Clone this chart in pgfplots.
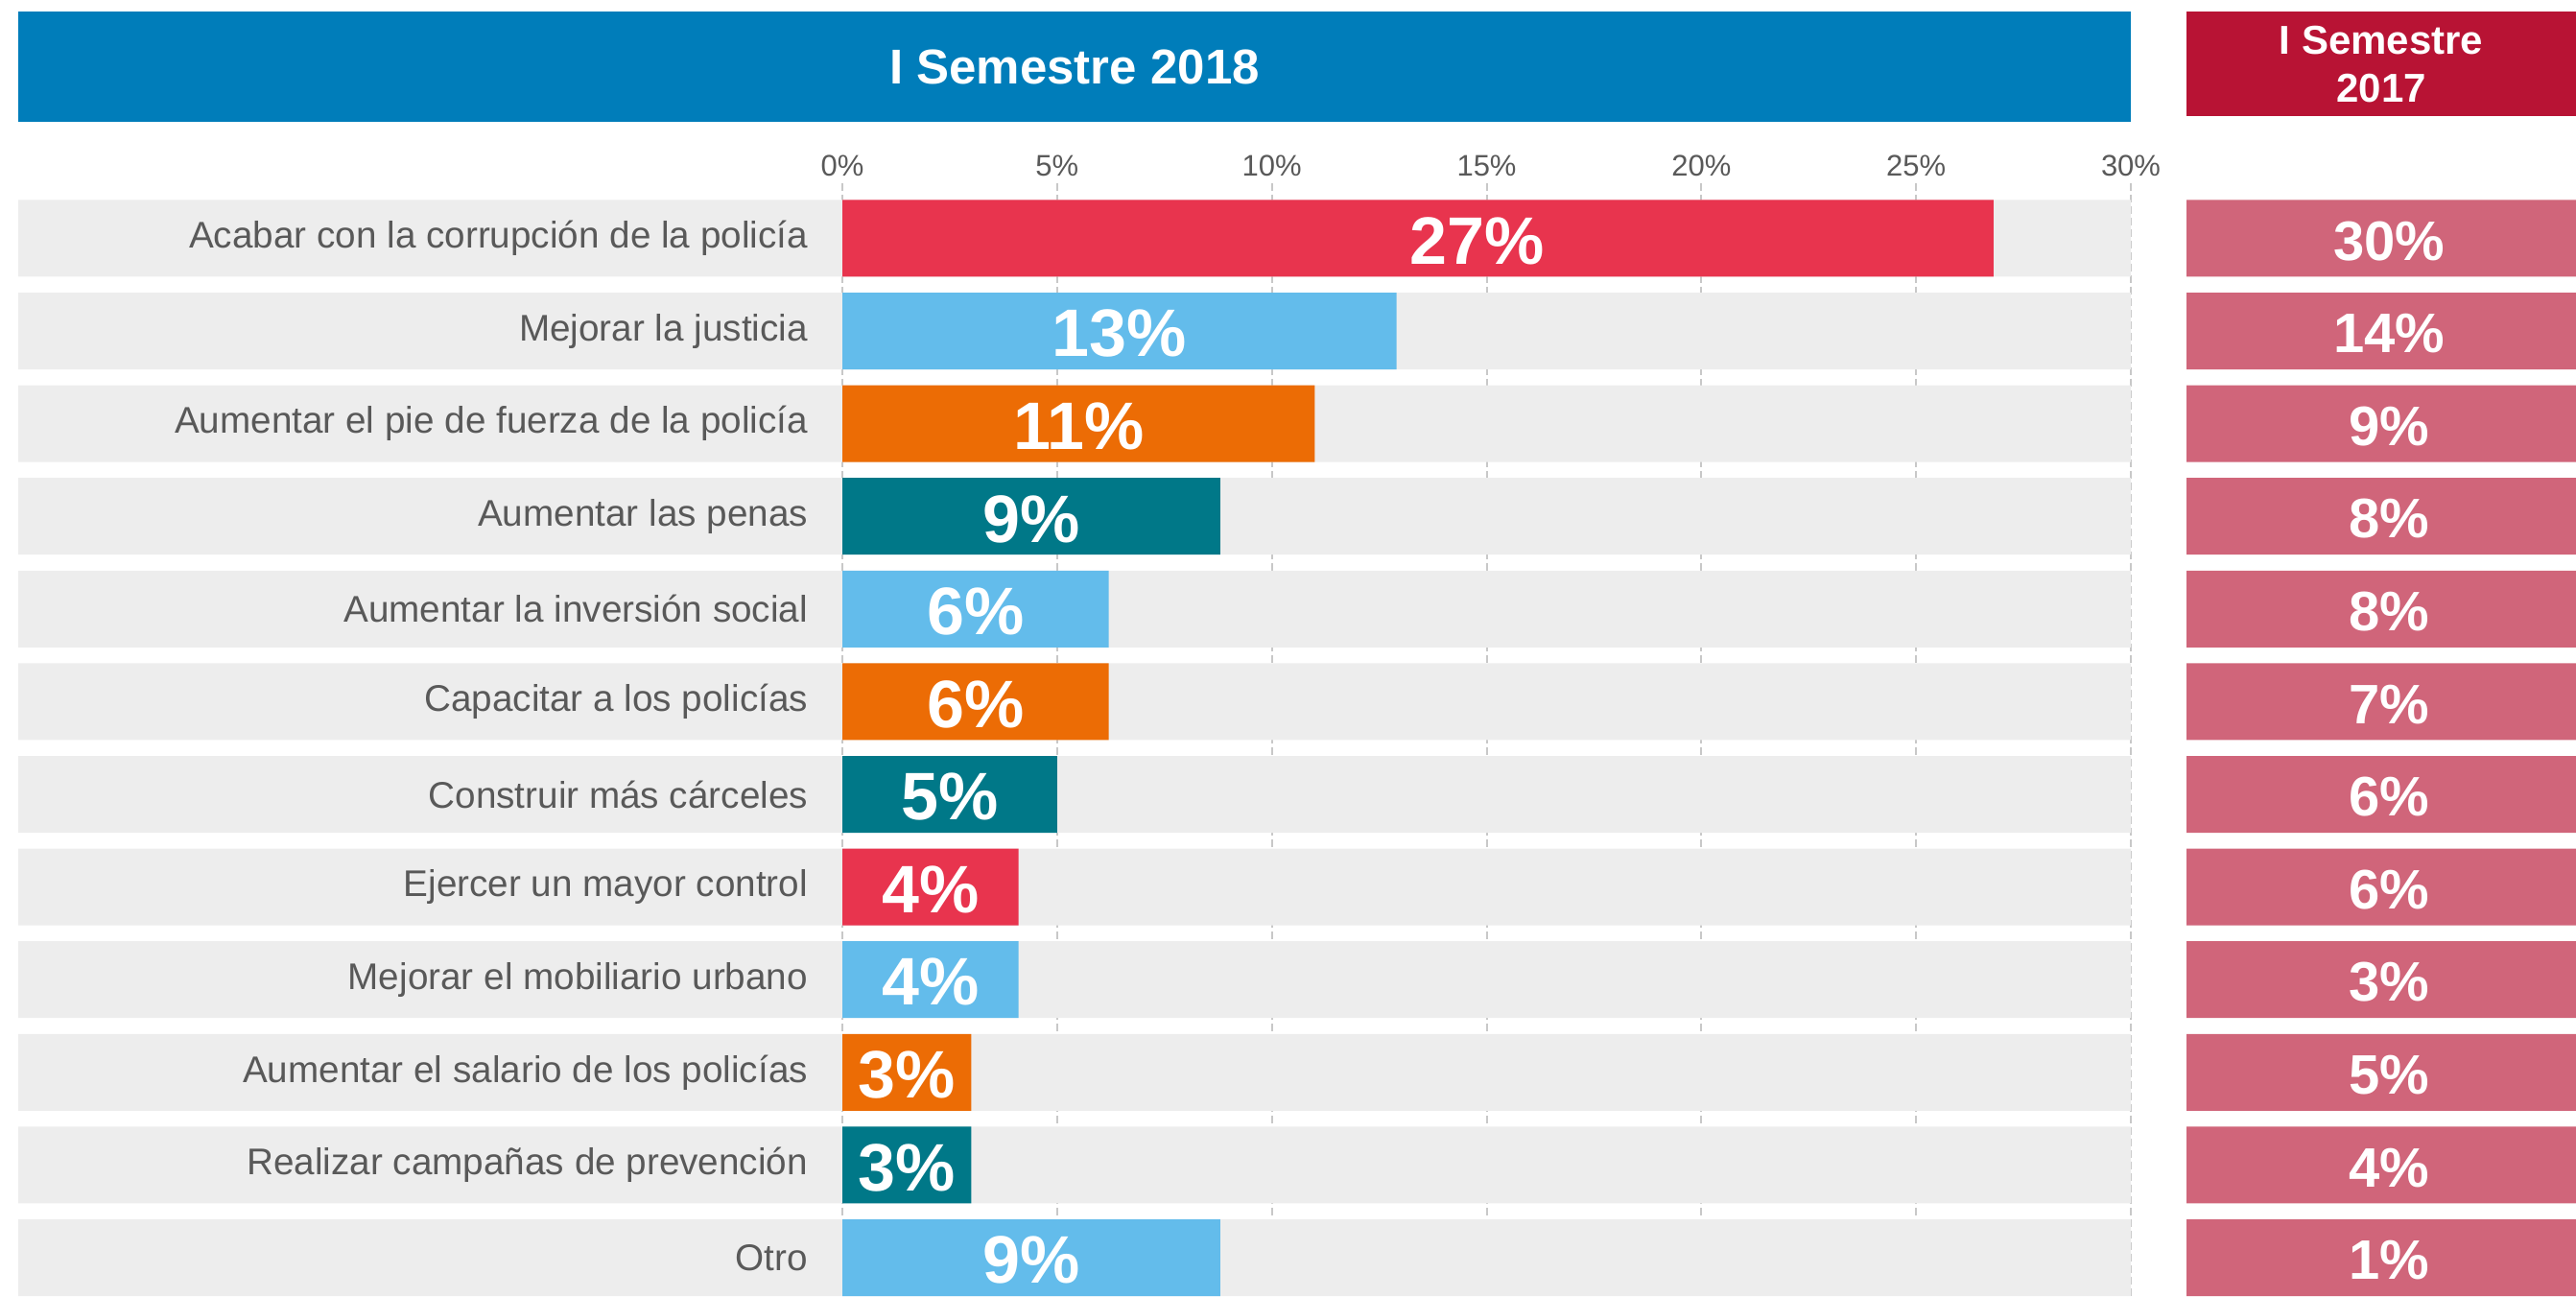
\documentclass[border=0pt]{standalone}
\usepackage{fontspec}
\setmainfont{Liberation Sans}
\usepackage{pgfplots}
\pgfplotsset{compat=1.18}
\definecolor{hdrblue}{HTML}{007DBA}
\definecolor{hdrred}{HTML}{B81334}
\definecolor{cred}{HTML}{E8344E}
\definecolor{cblue}{HTML}{63BCEB}
\definecolor{corange}{HTML}{EC6C05}
\definecolor{cteal}{HTML}{007888}
\definecolor{cpink}{HTML}{D0657A}
\definecolor{band}{HTML}{EDEDED}
\definecolor{txt}{HTML}{595959}
\definecolor{gridc}{HTML}{C8C8C8}

\begin{document}
\begin{tikzpicture}
\useasboundingbox (-5.7pt,-0.3pt) rectangle (799.8pt,405.3pt);
% I Semestre 2018
\begin{axis}[
at={(0,0)}, anchor=south west,
scale only axis, width=660.6pt, height=348pt,
xmin=-19.19, xmax=30, ymin=-0.595, ymax=11.414, y dir=reverse,
axis x line*=top, axis y line*=right,
x axis line style={draw=none},
y axis line style={gridc, line width=0.6pt, dash pattern=on 2.4pt off 1.2pt},
xtick={0,5,...,30}, ytick=\empty,
xtick style={draw=none},
xticklabel={\pgfmathprintnumber{\tick}\%},
xticklabel style={font=\fontsize{9.3}{11}\selectfont, text=txt, yshift=-1.5pt},
/pgf/number format/assume math mode=true,
xmajorgrids, grid style={gridc, line width=0.6pt, dash pattern=on 2.4pt off 1.2pt},
bar width=24pt, /pgf/bar shift=0pt,
clip=false,
]
% background bands
\addplot[xbar, fill=band, draw=none] coordinates {
(30,0) (30,1) (30,2) (30,3) (30,4) (30,5) (30,6) (30,7) (30,8) (30,9) (30,10) (30,11)};
\addplot[xbar, fill=band, draw=none] coordinates {
(-19.19,0) (-19.19,1) (-19.19,2) (-19.19,3) (-19.19,4) (-19.19,5)
(-19.19,6) (-19.19,7) (-19.19,8) (-19.19,9) (-19.19,10) (-19.19,11)};
% bars
\addplot[xbar, fill=cred, draw=none] coordinates {(26.8,0) (4.1,7)};
\addplot[xbar, fill=cblue, draw=none] coordinates {(12.9,1) (6.2,4) (4.1,8) (8.8,11)};
\addplot[xbar, fill=corange, draw=none] coordinates {(11.0,2) (6.2,5) (3.0,9)};
\addplot[xbar, fill=cteal, draw=none] coordinates {(8.8,3) (5.0,6) (3.0,10)};
% category names
\addplot[only marks, mark=none, point meta=explicit symbolic, nodes near coords,
  nodes near coords style={anchor=east, inner sep=0pt, text=txt, font=\fontsize{11.6}{14}\selectfont}]
coordinates {
(-0.79,0) [Acabar con la corrupción de la policía]
(-0.79,1) [Mejorar la justicia]
(-0.79,2) [Aumentar el pie de fuerza de la policía]
(-0.79,3) [Aumentar las penas]
(-0.79,4) [Aumentar la inversión social]
(-0.79,5) [Capacitar a los policías]
(-0.79,6) [Construir más cárceles]
(-0.79,7) [Ejercer un mayor control]
(-0.79,8) [Mejorar el mobiliario urbano]
(-0.79,9) [Aumentar el salario de los policías]
(-0.79,10) [Realizar campañas de prevención]
(-0.79,11) [Otro]
};
% value labels
\addplot[only marks, mark=none, point meta=explicit,
  nodes near coords={\pgfmathprintnumber{\pgfplotspointmeta}\%},
  nodes near coords style={anchor=center, yshift=-0.8pt, text=white, font=\bfseries\fontsize{21}{24}\selectfont}]
coordinates {
(14.77,0) [27] (6.45,1) [13] (5.5,2) [11] (4.4,3) [9] (3.1,4) [6] (3.1,5) [6]
(2.5,6) [5] (2.05,7) [4] (2.05,8) [4] (1.5,9) [3] (1.5,10) [3] (4.4,11) [9]
};
\node[anchor=south, yshift=18.9pt, fill=hdrblue, minimum width=660.6pt, minimum height=34.5pt,
  inner sep=0pt, text=white, font=\bfseries\fontsize{15.3}{18}\selectfont]
  at (axis description cs:0.5,1) {I Semestre 2018};
\end{axis}
% I Semestre 2017
\begin{axis}[
at={(678pt,0)}, anchor=south west,
scale only axis, width=121.8pt, height=348pt,
xmin=0, xmax=1, ymin=-0.595, ymax=11.414, y dir=reverse,
hide axis,
bar width=24pt, /pgf/bar shift=0pt,
/pgf/number format/assume math mode=true,
clip=false,
]
\addplot[xbar, fill=cpink, draw=none] coordinates {
(1,0) (1,1) (1,2) (1,3) (1,4) (1,5) (1,6) (1,7) (1,8) (1,9) (1,10) (1,11)};
\addplot[only marks, mark=none, point meta=explicit,
  nodes near coords={\pgfmathprintnumber{\pgfplotspointmeta}\%},
  nodes near coords style={anchor=center, yshift=-0.8pt, text=white, font=\bfseries\fontsize{17.4}{20}\selectfont}]
coordinates {
(0.52,0) [30] (0.52,1) [14] (0.52,2) [9] (0.52,3) [8] (0.52,4) [8] (0.52,5) [7]
(0.52,6) [6] (0.52,7) [6] (0.52,8) [3] (0.52,9) [5] (0.52,10) [4] (0.52,11) [1]
};
\node[anchor=south, yshift=20.7pt, fill=hdrred, minimum width=121.8pt, minimum height=32.7pt,
  inner sep=0pt, text=white, align=center, font=\bfseries\fontsize{12.6}{15}\selectfont]
  at (axis description cs:0.5,1) {I Semestre\\2017};
\end{axis}
\end{tikzpicture}
\end{document}
